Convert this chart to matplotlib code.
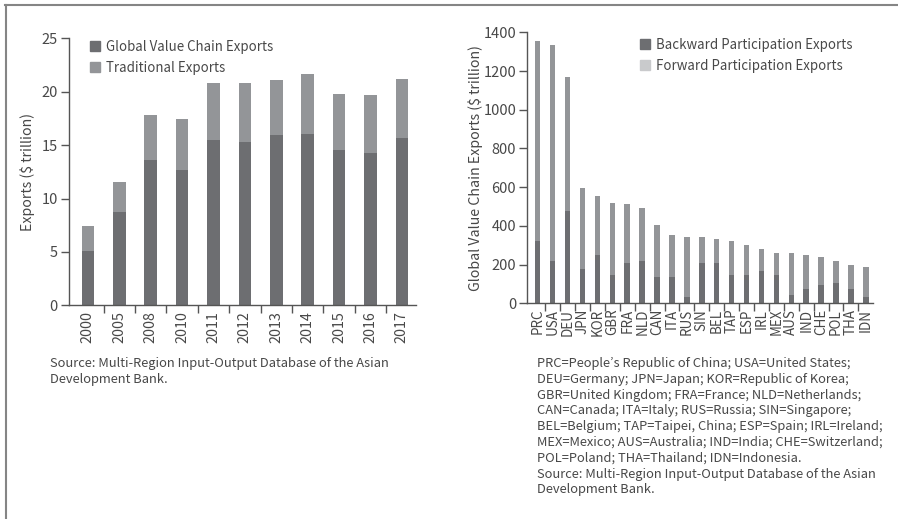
import numpy as np
import matplotlib
matplotlib.use('Agg')
import matplotlib.pyplot as plt
from matplotlib import font_manager
from matplotlib.lines import Line2D
from matplotlib.patches import Patch

plt.rcParams['font.family'] = ['Noto Sans CJK KR', 'DejaVu Sans']

# left panel data ($ trillion)
years = ['2000', '2005', '2008', '2010', '2011', '2012', '2013', '2014', '2015', '2016', '2017']
gvc_exports = [5.1, 8.7, 13.6, 12.7, 15.5, 15.3, 15.9, 16.0, 14.5, 14.3, 15.7]
traditional_exports = [2.3, 2.8, 4.2, 4.7, 5.3, 5.5, 5.2, 5.7, 5.3, 5.4, 5.5]

# right panel data
economies = ['PRC', 'USA', 'DEU', 'JPN', 'KOR', 'GBR', 'FRA', 'NLD', 'CAN', 'ITA', 'RUS', 'SIN',
             'BEL', 'TAP', 'ESP', 'IRL', 'MEX', 'AUS', 'IND', 'CHE', 'POL', 'THA', 'IDN']
backward = [324, 219, 479, 177, 250, 146, 208, 219, 136, 136, 33, 208,
            208, 146, 146, 167, 146, 43, 72, 95, 105, 72, 33]
forward = [1033, 1117, 690, 417, 303, 372, 303, 272, 270, 219, 311, 136,
           126, 178, 157, 115, 114, 217, 178, 144, 114, 126, 155]

dark = '#6d6e71'
light = '#939598'
pale = '#c9cacc'
axcol = '#555555'
txt = '#484848'

# narrow face for the chart texts if we have it
names = {f.name for f in font_manager.fontManager.ttflist}
if 'Liberation Sans Narrow' in names:
    chart_font = ['Liberation Sans Narrow', 'DejaVu Sans']
    k = 1.0
else:
    chart_font = ['Noto Sans CJK KR', 'DejaVu Sans']
    k = 0.84

W, H = 898, 519
fig = plt.figure(figsize=(W / 100, H / 100), dpi=100)


def px_axes(x0, y0, x1, y1):
    # pixel box -> figure fraction
    return fig.add_axes([x0 / W, 1 - y1 / H, (x1 - x0) / W, (y1 - y0) / H])


def style(ax, n, xsize):
    for s in ['top', 'right']:
        ax.spines[s].set_visible(False)
    for s in ['left', 'bottom']:
        ax.spines[s].set_color(axcol)
        ax.spines[s].set_linewidth(1.0)
    ax.set_xticks(np.arange(n))
    ax.set_xticks(np.arange(n - 1) + 0.5, minor=True)
    ax.tick_params(axis='x', which='major', length=0, pad=4, rotation=90,
                   labelsize=xsize * k, labelcolor=txt)
    ax.tick_params(axis='x', which='minor', length=6, width=1.0, color=axcol)
    ax.tick_params(axis='y', length=6, width=1.0, color=axcol, labelsize=12.5 * k,
                   labelcolor=txt, pad=2)
    for lab in ax.get_xticklabels() + ax.get_yticklabels():
        lab.set_family(chart_font)


def legend(ax, labels, colors, x0, y0):
    ax.legend(handles=[Patch(color=c) for c in colors], labels=labels,
              loc='upper left', bbox_to_anchor=(x0 / W, 1 - y0 / H),
              bbox_transform=fig.transFigure, frameon=False,
              prop={'family': chart_font, 'size': 11.4 * k},
              handlelength=0.75, handleheight=0.75, handletextpad=0.45,
              labelspacing=0.5, borderpad=0, borderaxespad=0, labelcolor=txt)


# ---- left chart
ax1 = px_axes(69, 38.3, 416, 305.3)
x = np.arange(len(years))
ax1.bar(x, gvc_exports, width=0.4, color=dark)
ax1.bar(x, traditional_exports, width=0.4, bottom=gvc_exports, color=light)
ax1.set_xlim(-0.6, 10.45)
ax1.set_ylim(0, 25)
ax1.set_yticks([0, 5, 10, 15, 20, 25])
ax1.set_xticklabels(years)
style(ax1, len(years), 12.3)
ax1.set_ylabel('Exports ($ trillion)', fontsize=12.2 * k, color=txt, family=chart_font)
ax1.yaxis.set_label_coords(-0.097, 0.5)
legend(ax1, ['Global Value Chain Exports', 'Traditional Exports'], [dark, light], 90, 40)

# ---- right chart
ax2 = px_axes(527.3, 32.3, 873.3, 303.3)
x2 = np.arange(len(economies))
ax2.bar(x2, backward, width=0.37, color=dark)
ax2.bar(x2, forward, width=0.37, bottom=backward, color=light)
ax2.set_xlim(-0.7, 22.5)
ax2.set_ylim(0, 1400)
ax2.set_yticks(np.arange(0, 1401, 200))
ax2.set_xticklabels(economies)
style(ax2, len(economies), 11.5)
ax2.set_ylabel('Global Value Chain Exports ($ trillion)', fontsize=12.2 * k, color=txt,
               family=chart_font)
ax2.yaxis.set_label_coords(-0.128, 0.5)
legend(ax2, ['Backward Participation Exports', 'Forward Participation Exports'],
       [dark, pale], 640, 38)

# ---- notes
src = 'Source: Multi-Region Input-Output Database of the Asian\nDevelopment Bank.'
fig.text(50 / W, 1 - 357 / H, src, fontsize=9.3, color=txt, va='top', ha='left',
         linespacing=1.28)
notes = ('PRC=People’s Republic of China; USA=United States;\n'
         'DEU=Germany; JPN=Japan; KOR=Republic of Korea;\n'
         'GBR=United Kingdom; FRA=France; NLD=Netherlands;\n'
         'CAN=Canada; ITA=Italy; RUS=Russia; SIN=Singapore;\n'
         'BEL=Belgium; TAP=Taipei, China; ESP=Spain; IRL=Ireland;\n'
         'MEX=Mexico; AUS=Australia; IND=India; CHE=Switzerland;\n'
         'POL=Poland; THA=Thailand; IDN=Indonesia.\n'
         'Source: Multi-Region Input-Output Database of the Asian\n'
         'Development Bank.')
fig.text(537 / W, 1 - 357 / H, notes, fontsize=9.3, color=txt, va='top', ha='left',
         linespacing=1.28)

# frame lines at top and left
fig.add_artist(Line2D([5 / W, 1], [1 - 5 / H, 1 - 5 / H], color='#858585', lw=1.5))
fig.add_artist(Line2D([5.5 / W, 5.5 / W], [0, 1 - 5 / H], color='#858585', lw=1.5))

fig.savefig('out.png', dpi=100)
